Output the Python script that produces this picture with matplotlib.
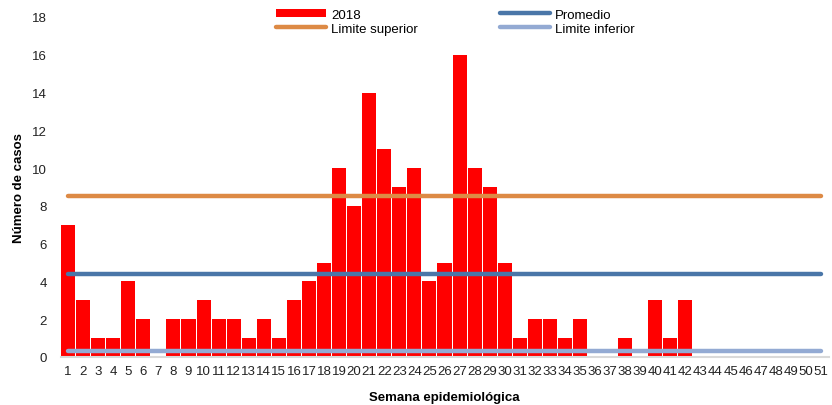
import matplotlib
matplotlib.use("Agg")
import matplotlib.pyplot as plt
from matplotlib.lines import Line2D
from matplotlib.patches import Patch

plt.rcParams['font.family'] = ['Liberation Sans', 'DejaVu Sans']

weeks = list(range(1, 52))
cases_2018 = [7, 3, 1, 1, 4, 2, 0, 2, 2, 3, 2, 2, 1, 2, 1, 3, 4, 5, 10, 8,
              14, 11, 9, 10, 4, 5, 16, 10, 9, 5, 1, 2, 2, 1, 2, 0, 0, 1, 0, 3,
              1, 3, 0, 0, 0, 0, 0, 0, 0, 0, 0]
promedio = 4.4
limite_superior = 8.5
limite_inferior = 0.3

fig = plt.figure(figsize=(8.32, 4.06), dpi=100)
ax = fig.add_axes([60.5 / 832, 48 / 406, 768 / 832, 340 / 406])

ax.bar(weeks, cases_2018, width=0.93, color='#ff0000', zorder=2)

line_kw = dict(linewidth=3.2, solid_capstyle='round', zorder=3)
ax.plot([weeks[0], weeks[-1]], [limite_superior] * 2, color='#dd8a45', **line_kw)
ax.plot([weeks[0], weeks[-1]], [promedio] * 2, color='#4a76a8', **line_kw)
ax.plot([weeks[0], weeks[-1]], [limite_inferior] * 2, color='#93aad3', **line_kw)

ax.set_xlim(0.5, 51.5)
ax.set_ylim(0, 18)
ax.set_yticks(range(0, 19, 2))
ax.set_xticks(weeks)
ax.set_xticklabels([str(w) for w in weeks])
ax.tick_params(axis='both', length=0, labelsize=9.5, colors='#222222')
ax.tick_params(axis='x', pad=6)
ax.tick_params(axis='y', pad=10)

for s in ('top', 'right', 'left'):
    ax.spines[s].set_visible(False)
ax.spines['bottom'].set_color('#d9d9d9')
ax.spines['bottom'].set_linewidth(1.5)

ax.set_xlabel('Semana epidemiológica', fontsize=9.5, fontweight='bold', labelpad=10)
ax.set_ylabel('Número de casos', fontsize=9.5, fontweight='bold')
ax.yaxis.set_label_coords(-36 / 768, 0.5)

handles = [
    Patch(facecolor='#ff0000'),
    Line2D([0], [0], color='#dd8a45', linewidth=3.2, solid_capstyle='round'),
    Line2D([0], [0], color='#4a76a8', linewidth=3.2, solid_capstyle='round'),
    Line2D([0], [0], color='#93aad3', linewidth=3.2, solid_capstyle='round'),
]
labels = ['2018', 'Limite superior', 'Promedio', 'Limite inferior']
fig.legend(handles, labels, ncol=2, loc='upper left',
           bbox_to_anchor=(268 / 832, 1.0 - 2 / 406), frameon=False, fontsize=9.5,
           handlelength=3.8, handleheight=0.6, handletextpad=0.4,
           columnspacing=6.2, labelspacing=0.15, borderaxespad=0.2)

fig.savefig('out.png', dpi=100)
